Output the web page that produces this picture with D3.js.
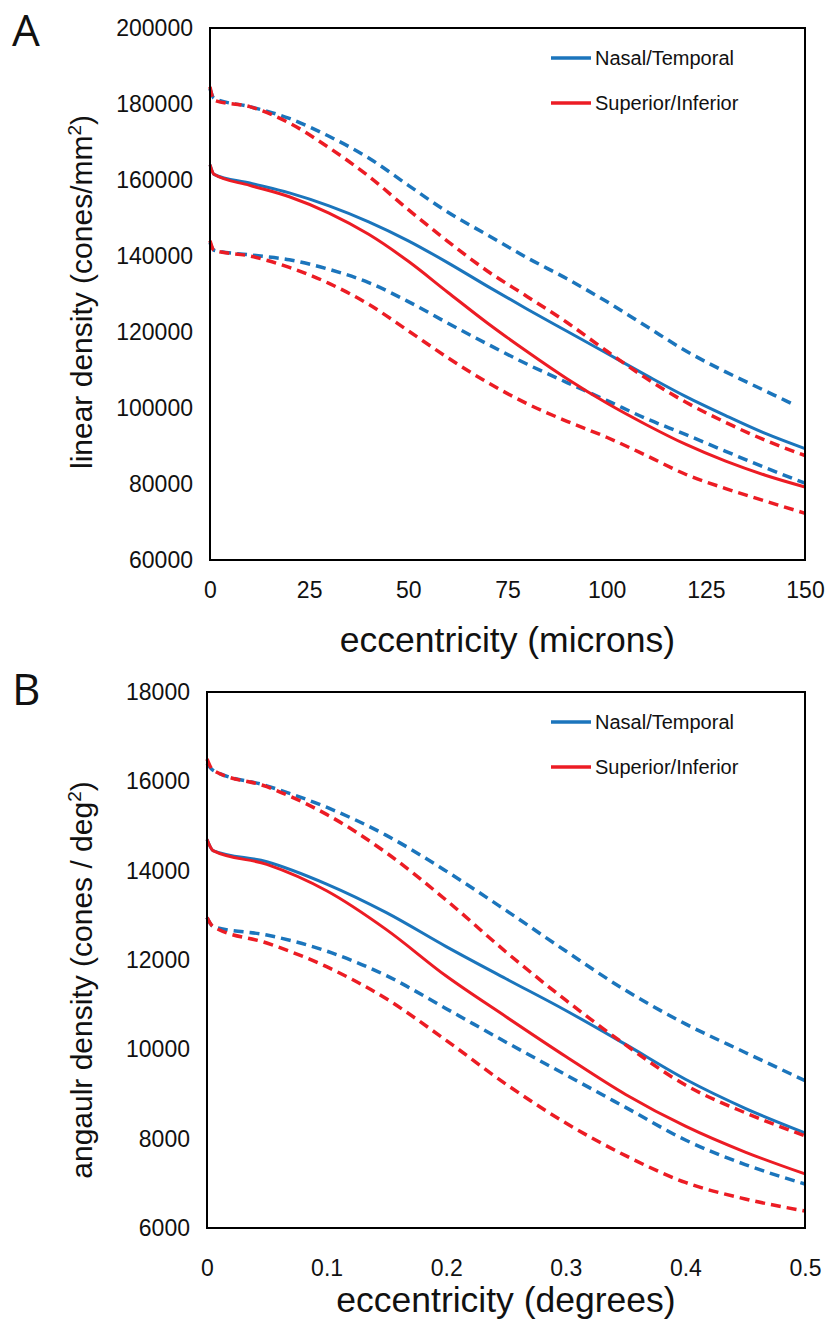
<!DOCTYPE html>
<html>
<head>
<meta charset="utf-8">
<script src="https://cdn.jsdelivr.net/npm/d3@7"></script>
<style>
  body { margin: 0; background: #fff; }
  svg { display: block; }
</style>
</head>
<body>
<svg id="chart" width="828" height="1320"></svg>
<script>
// ---- panel A: linear density vs eccentricity (microns)
const micronsX = [0, 1, 10, 20, 30, 40, 50, 60, 70, 80, 90, 100, 110, 120, 130, 140, 150];
const micronsXUpperNT = [0, 1, 10, 20, 30, 40, 50, 60, 70, 80, 90, 100, 110, 120, 130, 140, 147];
const linNTMean  = [164000, 161500, 159200, 156600, 153200, 149000, 144000, 138200, 132000, 126000, 120200, 114400, 108600, 103000, 98000, 93300, 89300];
const linSIMean  = [164000, 161500, 158600, 155600, 151300, 145700, 138600, 130400, 122300, 114800, 107700, 101300, 95600, 90400, 86000, 82300, 79200];
const linNTUpper = [184000, 181500, 179300, 176200, 171500, 165800, 158600, 151500, 145500, 139500, 134000, 128000, 121500, 115000, 109500, 104500, 101000];
const linSIUpper = [184500, 181000, 179300, 175000, 168500, 161000, 152200, 143800, 136000, 129300, 122500, 115000, 107800, 101500, 96200, 91500, 87500];
const linNTLower = [143500, 141500, 140300, 139000, 136500, 133000, 128000, 122300, 116800, 111500, 106700, 102000, 97200, 93000, 88600, 84300, 80200];
const linSILower = [144000, 141500, 140000, 137000, 132800, 127300, 120300, 113200, 106700, 101100, 96500, 92300, 87500, 82500, 78800, 75500, 72300];
const linYTicks = [60000, 80000, 100000, 120000, 140000, 160000, 180000, 200000];
const micronTicks = [0, 25, 50, 75, 100, 125, 150];

// ---- panel B: angular density vs eccentricity (degrees)
const degX = [0, 0.005, 0.05, 0.1, 0.15, 0.2, 0.25, 0.3, 0.35, 0.4, 0.45, 0.5];
const angNTMean  = [14700, 14450, 14200, 13700, 13060, 12300, 11580, 10870, 10110, 9330, 8680, 8130];
const angSIMean  = [14700, 14450, 14140, 13550, 12680, 11640, 10730, 9840, 8990, 8280, 7700, 7210];
const angNTUpper = [16400, 16250, 15900, 15420, 14790, 13990, 13110, 12200, 11320, 10570, 9930, 9300];
const angSIUpper = [16500, 16250, 15880, 15260, 14400, 13340, 12180, 11100, 10100, 9200, 8580, 8063];
const angNTLower = [12950, 12750, 12560, 12200, 11650, 10910, 10160, 9430, 8700, 7970, 7420, 6986];
const angSILower = [12950, 12750, 12380, 11850, 11130, 10200, 9220, 8350, 7620, 7020, 6650, 6380];
const angYTicks = [6000, 8000, 10000, 12000, 14000, 16000, 18000];
const degTicks = [0, 0.1, 0.2, 0.3, 0.4, 0.5];

const legendNames = ["Nasal/Temporal", "Superior/Inferior"];

const BLUE = "#1b75bc", RED = "#ec1c24";
const FONT = "'Liberation Sans', Arial, sans-serif";

const svg = d3.select("#chart");
svg.append("rect").attr("width", 828).attr("height", 1320).attr("fill", "#fff");

function drawPanel(p) {
  const g = svg.append("g");
  const x = d3.scaleLinear().domain(p.xDomain).range([p.left, p.right]);
  const y = d3.scaleLinear().domain(p.yDomain).range([p.bottom, p.top]);

  const line = d3.line()
    .x(d => x(d[0]))
    .y(d => y(d[1]))
    .curve(d3.curveMonotoneX);

  p.series.forEach(s => {
    g.append("path")
      .datum(d3.zip(s.x, s.y))
      .attr("d", line)
      .attr("fill", "none")
      .attr("stroke", s.color)
      .attr("stroke-width", s.dashed ? 3.5 : 3)
      .attr("stroke-dasharray", s.dashed ? "10,6" : null);
  });

  // frame
  g.append("rect")
    .attr("x", p.left).attr("y", p.top)
    .attr("width", p.right - p.left).attr("height", p.bottom - p.top)
    .attr("fill", "none").attr("stroke", "#000").attr("stroke-width", 2);

  // axes
  const ya = g.append("g")
    .attr("transform", `translate(${p.left},0)`)
    .call(d3.axisLeft(y).tickValues(p.yTicks).tickSize(0).tickPadding(17).tickFormat(d3.format("d")));
  ya.select(".domain").remove();
  ya.attr("font-size", 23).attr("font-family", FONT);
  ya.selectAll("text").attr("fill", "#111");

  const xa = g.append("g")
    .attr("transform", `translate(0,${p.bottom})`)
    .call(d3.axisBottom(x).tickValues(p.xTicks).tickSize(0).tickPadding(p.xPad).tickFormat(p.xFmt));
  xa.select(".domain").remove();
  xa.attr("font-size", 23).attr("font-family", FONT);
  xa.selectAll("text").attr("fill", "#111");

  // axis titles
  g.append("text")
    .attr("x", (p.left + p.right) / 2).attr("y", p.xTitleY)
    .attr("text-anchor", "middle")
    .attr("font-family", FONT).attr("font-size", 35.5).attr("fill", "#111")
    .text(p.xTitle);

  const yt = g.append("text")
    .attr("transform", `translate(${p.yTitleX},${p.yTitleY}) rotate(-90)`)
    .attr("text-anchor", "middle")
    .attr("font-family", FONT).attr("font-size", 30).attr("fill", "#111");
  yt.append("tspan").text(p.yTitle[0]);
  yt.append("tspan").attr("font-size", 19).attr("dy", -11).text("2");
  yt.append("tspan").attr("dy", 11).text(p.yTitle[1]);

  // panel letter
  g.append("text")
    .attr("x", 12).attr("y", p.letterY)
    .attr("font-family", "'Open Sans', 'Noto Sans', sans-serif").attr("font-size", 44).attr("fill", "#111")
    .text(p.letter);

  // legend
  const lg = g.append("g");
  [BLUE, RED].forEach((c, i) => {
    const ly = p.top + 30 + i * 45;
    lg.append("line")
      .attr("x1", 551).attr("x2", 591).attr("y1", ly).attr("y2", ly)
      .attr("stroke", c).attr("stroke-width", 3.5);
    lg.append("text")
      .attr("x", 595).attr("y", ly + 7)
      .attr("font-family", FONT).attr("font-size", 20).attr("fill", "#111")
      .text(legendNames[i]);
  });
}

drawPanel({
  left: 210, right: 805, top: 28, bottom: 560,
  xDomain: [0, 150], yDomain: [60000, 200000],
  xTicks: micronTicks, yTicks: linYTicks,
  xFmt: d3.format("d"), xPad: 22,
  xTitle: "eccentricity (microns)", xTitleY: 652,
  yTitle: ["linear density (cones/mm", ")"], yTitleX: 92, yTitleY: 292,
  letter: "A", letterY: 46,
  series: [
    { x: micronsX, y: linNTMean, color: BLUE },
    { x: micronsXUpperNT, y: linNTUpper, color: BLUE, dashed: true },
    { x: micronsX, y: linNTLower, color: BLUE, dashed: true },
    { x: micronsX, y: linSIMean, color: RED },
    { x: micronsX, y: linSIUpper, color: RED, dashed: true },
    { x: micronsX, y: linSILower, color: RED, dashed: true }
  ]
});

drawPanel({
  left: 207, right: 805, top: 692, bottom: 1228,
  xDomain: [0, 0.5], yDomain: [6000, 18000],
  xTicks: degTicks, yTicks: angYTicks,
  xFmt: d => d === 0 ? "0" : d3.format(".1f")(d), xPad: 32,
  xTitle: "eccentricity (degrees)", xTitleY: 1312,
  yTitle: ["angaulr density (cones / deg", ")"], yTitleX: 92, yTitleY: 980,
  letter: "B", letterY: 705,
  series: [
    { x: degX, y: angNTMean, color: BLUE },
    { x: degX, y: angNTUpper, color: BLUE, dashed: true },
    { x: degX, y: angNTLower, color: BLUE, dashed: true },
    { x: degX, y: angSIMean, color: RED },
    { x: degX, y: angSIUpper, color: RED, dashed: true },
    { x: degX, y: angSILower, color: RED, dashed: true }
  ]
});
</script>
</body>
</html>
